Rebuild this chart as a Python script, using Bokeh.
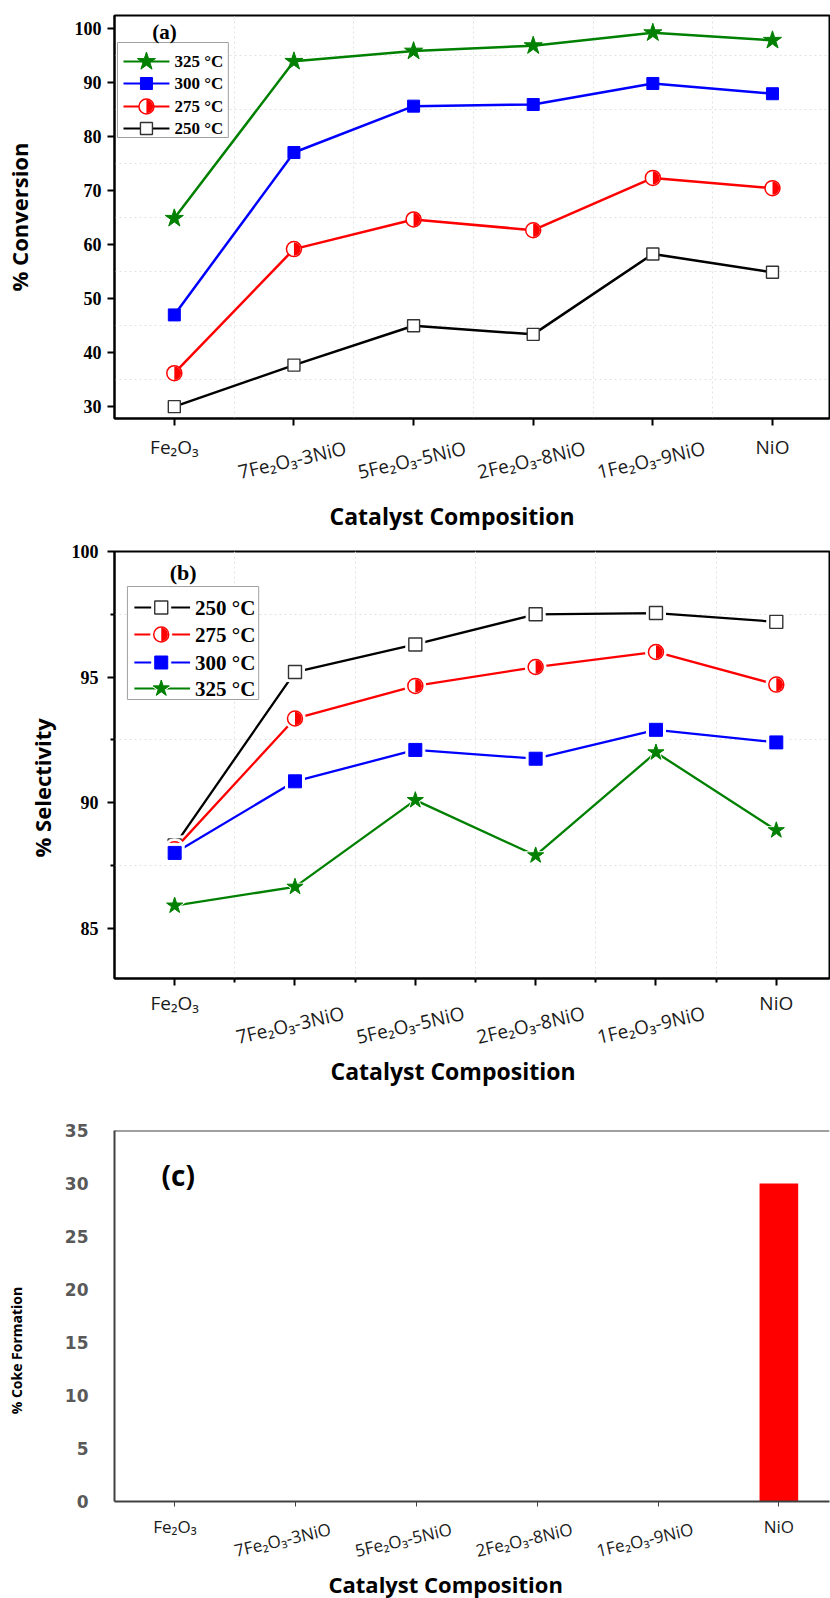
import numpy as np
from math import pi, radians
from bokeh.plotting import figure
from bokeh.layouts import column
from bokeh.models import Range1d, FixedTicker, Label, Span, LinearAxis, Title
from bokeh.core.properties import value
from bokeh.embed import file_html
from bokeh.resources import INLINE

# ---------------- data ----------------
categories = ["Fe₂O₃", "7Fe₂O₃-3NiO", "5Fe₂O₃-5NiO", "2Fe₂O₃-8NiO", "1Fe₂O₃-9NiO", "NiO"]
temps = ["250 °C", "275 °C", "300 °C", "325 °C"]

conv_250 = [30.0, 37.7, 45.0, 43.4, 58.3, 54.9]
conv_275 = [36.2, 59.2, 64.7, 62.7, 72.4, 70.5]
conv_300 = [47.0, 77.1, 85.7, 86.0, 89.9, 88.0]
conv_325 = [64.9, 94.0, 95.9, 96.9, 99.3, 97.9]

sel_250 = [88.3, 95.2, 96.3, 97.5, 97.55, 97.2]
sel_275 = [88.15, 93.35, 94.65, 95.4, 96.0, 94.7]
sel_300 = [88.0, 90.85, 92.1, 91.75, 92.9, 92.4]
sel_325 = [85.9, 86.65, 90.1, 87.9, 92.0, 88.9]

coke = [0, 0, 0, 0, 0, 30]

conv_ticks = [30, 40, 50, 60, 70, 80, 90, 100]
sel_ticks = [85, 90, 95, 100]
coke_ticks = [0, 5, 10, 15, 20, 25, 30, 35]

# ---------------- styling / geometry ----------------
GREEN = "#008000"
BLUE = "#0000ff"
RED = "#ff0000"
BLACK = "#000000"
NBSP = "\u00a0"

idx = list(range(len(categories)))
N = len(categories)

GA = dict(top=0, height=530, L=113, R=829, T=15, B=418, x0=-0.5, x1=-0.5 + 716 / 119.8, y0=27.8, y1=102.5)
GB = dict(top=530, height=570, L=110, R=829, T=551, B=978, x0=-0.5, x1=-0.5 + 719 / 121.0, y0=83.0, y1=100.0)
GC = dict(top=1100, height=498, L=112, R=830, T=1130, B=1501, x0=-0.5, x1=-0.5 + 718 / 121.3, y0=0.0, y1=35.0)


def ppu(g):
    return (g["R"] - g["L"]) / (g["x1"] - g["x0"])


def px2x(g, px):
    return g["x0"] + (px - g["L"]) / (g["R"] - g["L"]) * (g["x1"] - g["x0"])


def px2y(g, py):
    return g["y1"] - (py - g["T"]) / (g["B"] - g["T"]) * (g["y1"] - g["y0"])


def make_fig(g):
    p = figure(width=830, height=g["height"],
               x_range=Range1d(g["x0"], g["x1"]), y_range=Range1d(g["y0"], g["y1"]),
               output_backend="svg", toolbar_location=None,
               min_border_left=g["L"], min_border_right=830 - g["R"],
               min_border_top=g["T"] - g["top"],
               min_border_bottom=g["top"] + g["height"] - g["B"])
    p.background_fill_color = "white"
    p.border_fill_color = "white"
    return p


def add_label(p, g, px, py, text, font, size, style="bold", color="black", angle=0.0):
    p.add_layout(Label(x=px2x(g, px), y=px2y(g, py), text=text, text_font=font,
                       text_font_size=f"{size}px", text_font_style=style, text_color=color,
                       angle=angle, text_align="center", text_baseline="middle"))


def setup_xaxes(p, g, size, std1, shift_px, std2, angle_deg, title_size, title_left_px, title_standoff):
    ax1 = p.xaxis[0]
    ax1.major_label_overrides = {i: (categories[i] if i in (0, N - 1) else "") for i in idx}
    ax1.major_label_text_font = "Open Sans"
    ax1.major_label_text_font_size = f"{size}px"
    ax1.major_label_text_color = "#1a1a1a"
    ax1.major_label_standoff = std1
    ax1.major_label_orientation = "horizontal"
    shift = shift_px / ppu(g)
    ticks2 = [i + shift for i in idx[1:-1]]
    ax2 = LinearAxis(ticker=FixedTicker(ticks=ticks2),
                     major_label_overrides={t: categories[i + 1] for i, t in enumerate(ticks2)},
                     major_label_orientation=radians(angle_deg),
                     axis_line_color=None, major_tick_line_color=None, minor_tick_line_color=None,
                     major_tick_out=0, major_tick_in=0, minor_tick_out=0, minor_tick_in=0,
                     major_label_standoff=std2,
                     major_label_text_font="Open Sans", major_label_text_font_size=f"{size}px",
                     major_label_text_color="#1a1a1a")
    p.add_layout(ax2, "below")
    p.add_layout(Title(text="Catalyst Composition", align="left", offset=title_left_px - g["L"],
                       standoff=title_standoff, text_font="Open Sans",
                       text_font_size=f"{title_size}px", text_font_style="bold",
                       text_color="black"), "below")


def setup_ytitle(p, text, size, standoff, pad=0, color="black"):
    p.yaxis.axis_label = text + NBSP * pad
    p.yaxis.axis_label_text_font = "Open Sans"
    p.yaxis.axis_label_text_font_size = f"{size}px"
    p.yaxis.axis_label_text_font_style = "bold"
    p.yaxis.axis_label_text_color = color
    p.yaxis.axis_label_standoff = standoff


def draw_marker(p, xs, ys, kind, color, size, halo=False):
    if halo:
        shape = "circle" if kind == "half_circle" else ("star" if kind == "star" else "square")
        p.scatter(xs, ys, marker=shape, size=size + 6, fill_color="white", line_color="white")
    if kind == "open_square":
        p.scatter(xs, ys, marker="square", size=size, fill_color="white", line_color="#333333", line_width=1.4)
    elif kind == "square":
        p.scatter(xs, ys, marker="square", size=size, fill_color=color, line_color=color)
    elif kind == "star":
        p.scatter(xs, ys, marker="star", size=size, fill_color=color, line_color=color)
    elif kind == "half_circle":
        p.scatter(xs, ys, marker="circle", size=size, fill_color="white", line_color=color, line_width=1.5)
        p.wedge(xs, ys, radius=size / 2 - 0.8, radius_units="screen",
                start_angle=-pi / 2, end_angle=pi / 2, fill_color=color, line_color=None)


def style_grid(p, xgrid_ticks, ygrid_ticks):
    p.xgrid.ticker = FixedTicker(ticks=xgrid_ticks)
    p.ygrid.ticker = FixedTicker(ticks=ygrid_ticks)
    for gr in (p.xgrid, p.ygrid):
        gr.grid_line_color = "#e2e2e2"
        gr.grid_line_dash = "2 3"
        gr.grid_line_width = 1


def style_axes_box(p):
    p.outline_line_color = "black"
    p.outline_line_width = 2
    for ax in (p.xaxis[0], p.yaxis[0]):
        ax.axis_line_width = 2
        ax.axis_line_color = "black"
        ax.major_tick_line_width = 2
        ax.major_tick_line_color = "black"
        ax.major_tick_out = 7
        ax.major_tick_in = 0
        ax.minor_tick_line_width = 2
        ax.minor_tick_line_color = "black"
        ax.minor_tick_out = 4
        ax.minor_tick_in = 0
    p.yaxis.major_label_text_font = "Liberation Serif"
    p.yaxis.major_label_text_font_style = "bold"
    p.yaxis.major_label_text_font_size = "18px"
    p.yaxis.major_label_text_color = "black"


def draw_legend(p, g, rows, box, line_x, mark_x, text_x, size, series, sizes, halo):
    left, right, top, bottom = box
    p.quad(left=[px2x(g, left)], right=[px2x(g, right)], top=[px2y(g, top)], bottom=[px2y(g, bottom)],
           fill_color="white", line_color="#a0a0a0", line_width=1)
    for (label, _, color, kind), ry in zip(series, rows):
        yy = px2y(g, ry)
        p.segment(x0=[px2x(g, line_x[0])], y0=[yy], x1=[px2x(g, line_x[1])], y1=[yy],
                  line_color=color, line_width=2)
        draw_marker(p, [px2x(g, mark_x)], [yy], kind, color, sizes[kind], halo=halo)
        p.text(x=[px2x(g, text_x)], y=[yy], text=[label], text_font=value("Liberation Serif"),
               text_font_style="bold", text_font_size=f"{size}px", text_baseline="middle",
               text_align="left", text_color="black")


# ---------------- panel (a) ----------------
pa = make_fig(GA)
style_axes_box(pa)
pa.yaxis.ticker = FixedTicker(ticks=conv_ticks)
pa.xaxis.ticker = FixedTicker(ticks=idx)
pa.yaxis.minor_tick_line_color = None
pa.xaxis.minor_tick_line_color = None
pa.yaxis.major_label_standoff = 6
style_grid(pa, [i + 0.5 for i in idx[:-1]], [t + 5 for t in conv_ticks[:-1]])

series_a = [
    (temps[0], conv_250, BLACK, "open_square"),
    (temps[1], conv_275, RED, "half_circle"),
    (temps[2], conv_300, BLUE, "square"),
    (temps[3], conv_325, GREEN, "star"),
]
sizes_a = {"open_square": 12, "half_circle": 15, "square": 12, "star": 19}
for label, ys, color, kind in series_a:
    pa.line(idx, ys, line_color=color, line_width=2.5)
    draw_marker(pa, idx, ys, kind, color, sizes_a[kind])

draw_legend(pa, GA, [61, 83, 106, 128], (116, 227, 42, 137), (122, 168), 145, 173, 17,
            list(reversed(series_a)), sizes_a, halo=False)
add_label(pa, GA, 163, 31, "(a)", "Liberation Serif", 21)
setup_ytitle(pa, "% Conversion", 22, 38)
setup_xaxes(pa, GA, 19, 8, 52, -15, 13, 23, 328, -6)

# ---------------- panel (b) ----------------
pb = make_fig(GB)
style_axes_box(pb)
pb.yaxis.ticker = FixedTicker(ticks=sel_ticks, minor_ticks=[87.5, 92.5, 97.5])
pb.xaxis.ticker = FixedTicker(ticks=idx, minor_ticks=[i + 0.5 for i in idx[:-1]])
pb.yaxis.major_label_standoff = 9
style_grid(pb, [i + 0.5 for i in idx[:-1]], [87.5, 92.5, 97.5])

series_b = [
    (temps[0], sel_250, BLACK, "open_square"),
    (temps[1], sel_275, RED, "half_circle"),
    (temps[2], sel_300, BLUE, "square"),
    (temps[3], sel_325, GREEN, "star"),
]
sizes_b = {"open_square": 13, "half_circle": 15, "square": 13, "star": 17}
for label, ys, color, kind in series_b:
    pb.line(idx, ys, line_color=color, line_width=2.3)
    draw_marker(pb, idx, ys, kind, color, sizes_b[kind], halo=True)

draw_legend(pb, GB, [607, 634, 662, 688], (123, 255, 586, 699), (130, 186), 157, 191, 21,
            series_b, sizes_b, halo=True)
add_label(pb, GB, 179, 572, "(b)", "Liberation Serif", 22)
setup_ytitle(pb, "% Selectivity", 22, 12, pad=8)
setup_xaxes(pb, GB, 19, 4, 49, -6, 13, 23, 326, -26)

# ---------------- panel (c) ----------------
pc = make_fig(GC)
pc.outline_line_color = None
pc.xgrid.grid_line_color = None
pc.ygrid.grid_line_color = None
pc.yaxis.ticker = FixedTicker(ticks=coke_ticks)
pc.xaxis.ticker = FixedTicker(ticks=idx)
pc.yaxis.major_tick_out = 0
pc.yaxis.major_tick_in = 0
pc.yaxis.minor_tick_line_color = None
pc.yaxis.major_label_standoff = 26
pc.yaxis.major_label_text_font = "DejaVu Sans"
pc.yaxis.major_label_text_font_style = "bold"
pc.yaxis.major_label_text_font_size = "17px"
pc.yaxis.major_label_text_color = "#595959"
pc.xaxis.major_tick_out = 5
pc.xaxis.major_tick_in = 0
pc.xaxis.minor_tick_line_color = None
for ax in (pc.xaxis[0], pc.yaxis[0]):
    ax.axis_line_color = "#404040"
    ax.axis_line_width = 2
    ax.major_tick_line_color = "#404040"
    ax.major_tick_line_width = 1
pc.add_layout(Span(location=35, dimension="width", line_color="#404040", line_width=2))

pc.vbar(x=idx, top=coke, bottom=0, width=0.32, fill_color=RED, line_color=None)

add_label(pc, GC, 176, 1174, "(c)", "Open Sans", 28)
setup_ytitle(pc, "% Coke Formation", 14, 36, pad=19)
setup_xaxes(pc, GC, 17, 8, 35, -12, 13, 22, 326, -20)

layout = column(pa, pb, pc, spacing=0)
open("out.html", "w").write(file_html(layout, INLINE))
